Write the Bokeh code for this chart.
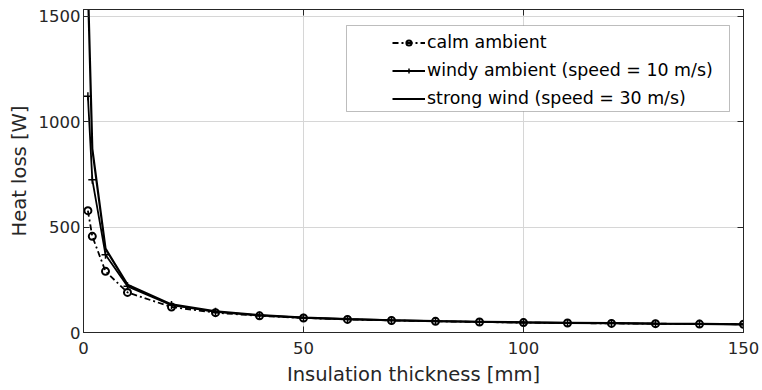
from bokeh.plotting import figure
from bokeh.models import (Range1d, LinearAxis, FixedTicker, Legend, LegendItem, BoxAnnotation,
                          CustomLabelingPolicy)
from bokeh.embed import file_html
from bokeh.resources import INLINE

# ---- data ----
thickness_mm = [1, 2, 5, 10, 20, 30, 40, 50, 60, 70, 80, 90, 100, 110, 120, 130, 140, 150]
calm_ambient = [578, 456, 290, 190, 121, 94, 79, 69, 62, 57, 53, 50, 47, 45, 43, 42, 40, 39]
windy_ambient = [1121, 725, 369, 219, 130, 98, 81, 70, 63, 58, 54, 50, 48, 45, 44, 42, 41, 39]
strong_wind = [1650, 871, 398, 227, 133, 100, 82, 71, 63, 58, 54, 51, 48, 46, 44, 42, 41, 39]
x_ticks = [0, 50, 100, 150]
y_ticks = [0, 500, 1000, 1500]
series_labels = ["calm ambient", "windy ambient (speed = 10 m/s)", "strong wind (speed = 30 m/s)"]

FONT = "DejaVu Sans"
TXT = "#262626"
INK = "#000000"

p = figure(width=762, height=390, x_range=Range1d(0, 150), y_range=Range1d(0, 1532),
           output_backend="svg", toolbar_location=None,
           min_border_left=83, min_border_right=19, min_border_top=9, min_border_bottom=58,
           x_axis_label="Insulation thickness [mm]", y_axis_label="Heat loss [W]")
p.outline_line_color = TXT
p.background_fill_color = "white"
p.border_fill_color = "white"

for ax, ticks in ((p.xaxis, x_ticks), (p.yaxis, y_ticks)):
    ax.ticker = FixedTicker(ticks=ticks)
    ax.major_tick_in = 6
    ax.major_tick_out = 0
    ax.minor_tick_line_color = None
    ax.axis_line_color = TXT
    ax.major_tick_line_color = TXT
    ax.major_label_text_font = FONT
    ax.major_label_text_font_size = "16.5px"
    ax.major_label_text_color = TXT
    ax.axis_label_text_font = FONT
    ax.axis_label_text_font_size = "19.5px"
    ax.axis_label_text_font_style = "normal"
    ax.axis_label_text_color = TXT
p.xaxis.major_label_standoff = 9
p.xaxis.axis_label_standoff = 6
p.yaxis.major_label_standoff = 3
p.yaxis.axis_label_standoff = 5

p.xgrid.ticker = FixedTicker(ticks=x_ticks)
p.ygrid.ticker = FixedTicker(ticks=y_ticks)
p.grid.grid_line_color = "#d6d6d6"
p.grid.grid_line_width = 1

# box-style ticks on top and right (no labels)
for loc, ticks in (("right", y_ticks), ("above", x_ticks)):
    ax = LinearAxis(ticker=FixedTicker(ticks=ticks), major_tick_in=6, major_tick_out=0,
                    major_label_policy=CustomLabelingPolicy(code="return []"),
                    major_label_text_font_size="1px", major_label_standoff=0,
                    axis_line_color=TXT, major_tick_line_color=TXT, minor_tick_line_color=None)
    p.add_layout(ax, loc)

l1 = p.line(thickness_mm, calm_ambient, line_color=INK, line_width=1.8, line_dash="6 3 2 3")
s1 = p.scatter(thickness_mm, calm_ambient, marker="circle", size=7, fill_color=None,
               line_color=INK, line_width=2)
l2 = p.line(thickness_mm, windy_ambient, line_color=INK, line_width=1.8)
s2 = p.scatter(thickness_mm, windy_ambient, marker="cross", size=8, line_color=INK, line_width=1.5)
l3 = p.line(thickness_mm, strong_wind, line_color=INK, line_width=2.2)

# legend frame (screen units: relative to the plot frame, y measured upward)
box = BoxAnnotation(left=263, right=646, top=307, bottom=221,
                    left_units="screen", right_units="screen", top_units="screen", bottom_units="screen",
                    fill_color="white", fill_alpha=1.0, line_color=TXT, line_width=1)
p.add_layout(box)

legend = Legend(items=[LegendItem(label=series_labels[0], renderers=[l1, s1]),
                       LegendItem(label=series_labels[1], renderers=[l2, s2]),
                       LegendItem(label=series_labels[2], renderers=[l3])],
                location=(306, 217), padding=3, spacing=0, margin=0,
                glyph_width=33, glyph_height=13, label_height=28, label_standoff=2,
                label_text_font=FONT, label_text_font_size="17.4px", label_text_color=INK,
                border_line_alpha=0, background_fill_alpha=0)
p.add_layout(legend)

open("out.html", "w").write(file_html(p, INLINE))
